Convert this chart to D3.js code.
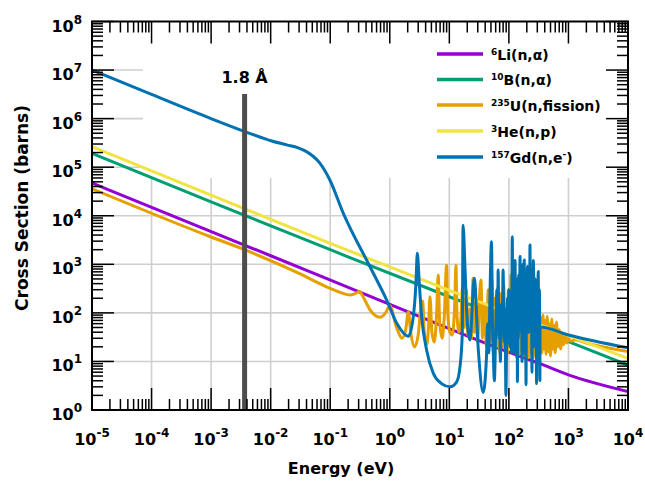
<!DOCTYPE html>
<html>
<head>
<meta charset="utf-8">
<script src="https://cdn.jsdelivr.net/npm/d3@7"></script>
<style>
  body { margin: 0; background: #fff; }
  svg { display: block; }
  text { font-family: "DejaVu Sans", Verdana, sans-serif; font-weight: bold; fill: #000; }
</style>
</head>
<body>
<svg id="chart" width="645" height="489"></svg>
<script>
// Axis decades (powers of ten)
const xDecades = [-5, -4, -3, -2, -1, 0, 1, 2, 3, 4];
const yDecades = [0, 1, 2, 3, 4, 5, 6, 7, 8];

// Cross sections: [energy (eV), cross section (barns)]
const li6 = [
  [1e-5, 47300], [1e-2, 1500], [1e0, 150], [1e2, 15.5], [330, 9], [1e3, 5.3], [1e4, 2.4]
];
const b10 = [
  [1e-5, 193000], [1e-3, 19300], [1e-1, 2000], [1e1, 215], [1e3, 25.5], [1e4, 8.4]
];
const he3 = [
  [1e-5, 265000], [1e-3, 26500], [1e-1, 2700], [1e1, 290], [1e3, 34], [1e4, 11.5]
];
const u235 = [
  [1e-5, 36000], [1e-3, 3650], [0.0033, 2100], [0.03, 650], [0.099, 321], [0.15, 262],
  [0.215, 233], [0.26, 250], [0.31, 274], [0.36, 210], [0.466, 115], [0.686, 81],
  [0.85, 100], [1.0, 140], [1.3, 50], [1.6, 30], [1.85, 45], [2.05, 105], [2.25, 40],
  [2.6, 20], [3.0, 35], [3.3, 120], [3.56, 175], [3.8, 40], [4.2, 22], [4.5, 60],
  [4.73, 215], [5.1, 40], [5.6, 25], [6.1, 90], [6.5, 600], [6.9, 60], [7.6, 30],
  [8.2, 80], [9.0, 960], [9.4, 100], [10.2, 40], [11.2, 35], [12.4, 200], [12.9, 960],
  [13.4, 100], [14.5, 40], [15.5, 60], [16.7, 350], [18, 50], [19.3, 300], [20.5, 35],
  [22, 120], [23.5, 30], [25, 515], [26.5, 40], [28, 100], [30, 25], [32, 200],
  [34, 475], [36, 30], [39, 150], [42, 20], [45, 300], [48, 25], [52, 500], [55, 15],
  [58, 200], [62, 20], [66, 350], [70, 15], [74, 250], [78, 20], [82, 400], [86, 18],
  [90, 150], [94, 14], [98, 300], [103, 20], [108, 600], [113, 18], [118, 200], [124, 15],
  [130, 450], [136, 20], [142, 250], [149, 14], [156, 350], [163, 18], [170, 200],
  [178, 13], [186, 300], [195, 16], [204, 150], [213, 12], [223, 250], [233, 15],
  [244, 120], [255, 12], [267, 200], [279, 14], [292, 100], [305, 12], [318, 150],
  [330, 20], [345, 80], [360, 15], [375, 90], [390, 18], [405, 70], [420, 14], [440, 85],
  [460, 16], [480, 60], [500, 13], [525, 75], [550, 18], [575, 55], [600, 15], [630, 65],
  [660, 20], [700, 45], [740, 18], [780, 40], [830, 22], [880, 35], [940, 24], [1000, 30],
  [1100, 26], [1300, 28], [2000, 24], [1e4, 16]
];
const gd157 = [
  [1e-5, 1.0e7], [1e-4, 3.15e6], [1e-3, 1.0e6], [0.0037, 5.4e5], [0.0104, 3.46e5],
  [0.0186, 2.88e5], [0.029, 2.5e5], [0.040, 2.09e5], [0.067, 1.21e5], [0.0986, 5.45e4],
  [0.166, 1.12e4], [0.466, 890], [0.887, 184], [1.31, 61], [2.05, 33], [2.48, 83],
  [2.75, 405], [2.9, 1690], [3.13, 405], [3.43, 83], [4.16, 17], [5.37, 5.7], [7.4, 3.5],
  [10.3, 3.0], [13.3, 3.8], [15.1, 7.8], [16.5, 38], [17, 6400], [18.3, 890], [19.5, 114],
  [22.2, 27.5], [26.2, 515], [30.7, 17], [37, 2.3], [42, 12], [44, 60], [46, 15],
  [48, 200], [51, 2900], [53, 60], [55, 12], [57, 4], [60, 40], [63, 300], [65, 60],
  [66, 760], [68, 30], [70, 80], [72, 10], [75, 150], [77, 40], [80, 760], [82, 60],
  [84, 25], [86, 120], [88, 8], [89, 2], [92, 40], [95, 200], [97, 25], [100, 300],
  [102, 60], [104, 20], [106, 250], [108, 60], [111, 15], [114, 3700], [116, 150],
  [118, 400], [120, 40], [122, 15], [124, 300], [127, 1200], [129, 60], [132, 500],
  [134, 40], [136, 12], [138, 150], [139, 3.8], [142, 200], [144, 30], [146, 600],
  [149, 50], [152, 300], [154, 1440], [157, 100], [160, 40], [163, 700], [166, 10],
  [169, 150], [172, 1000], [175, 60], [178, 15], [181, 1230], [184, 80], [187, 30],
  [190, 400], [194, 3.3], [197, 200], [201, 60], [205, 900], [209, 500], [212, 40],
  [216, 40], [220, 600], [223, 80], [226, 2500], [230, 100], [234, 50], [238, 800],
  [244, 6], [248, 400], [252, 100], [257, 1200], [263, 300], [267, 60], [272, 20],
  [277, 500], [282, 150], [287, 40], [292, 3.5], [296, 400], [300, 60], [305, 200],
  [311, 710], [316, 80], [320, 30], [326, 300], [332, 4], [333, 51], [1000, 35], [1e4, 19]
];

// Legend labels: isotope mass number, reaction, optional superscript inside the reaction
const isotopes = ["6", "10", "235", "3", "157"];
const reactions = ["Li(n,α)", "B(n,α)", "U(n,fission)", "He(n,p)", "Gd(n,e"];
const reactionSup = ["", "", "", "", "-"];
const reactionEnd = ["", "", "", "", ")"];
const seriesData = [li6, b10, u235, he3, gd157];
const seriesColors = ["#9400D3", "#009E73", "#E69F00", "#F0E442", "#0072B2"];

// Thermal-neutron wavelength marker
const markerLabel = "1.8 Å";
const markerEnergy = 0.00365;
const markerTop = 3.2e6;

const svg = d3.select("#chart");
const plotLeft = 92, plotRight = 628, plotTop = 21.5, plotBottom = 410;

const x = d3.scaleLog().domain([1e-5, 1e4]).range([plotLeft, plotRight]);
const y = d3.scaleLog().domain([1, 1e8]).range([plotBottom, plotTop]);

// Grid lines at each decade
const grid = svg.append("g").attr("stroke", "#cfcfcf").attr("stroke-width", 1.6);
xDecades.slice(1, -1).forEach(d => {
  grid.append("line").attr("x1", x(10 ** d)).attr("x2", x(10 ** d))
    .attr("y1", plotTop).attr("y2", plotBottom);
});
yDecades.slice(1, -1).forEach(d => {
  grid.append("line").attr("x1", plotLeft).attr("x2", plotRight)
    .attr("y1", y(10 ** d)).attr("y2", y(10 ** d));
});

// Legend background
svg.append("rect").attr("x", 143).attr("y", plotTop + 1).attr("width", plotRight - 144)
  .attr("height", 178 - plotTop - 1).attr("fill", "#fff");

// Curves
const line = d3.line()
  .x(d => x(d[0])).y(d => y(d[1]))
  .curve(d3.curveMonotoneX);

svg.append("clipPath").attr("id", "plotclip")
  .append("rect").attr("x", plotLeft).attr("y", plotTop)
  .attr("width", plotRight - plotLeft).attr("height", plotBottom - plotTop);

const curves = svg.append("g").attr("clip-path", "url(#plotclip)");
seriesData.forEach((data, i) => {
  curves.append("path").datum(data)
    .attr("d", line)
    .attr("fill", "none")
    .attr("stroke", seriesColors[i])
    .attr("stroke-width", 3)
    .attr("stroke-linejoin", "round");
});

// Wavelength marker bar
svg.append("line")
  .attr("x1", x(markerEnergy)).attr("x2", x(markerEnergy))
  .attr("y1", y(markerTop)).attr("y2", plotBottom)
  .attr("stroke", "#4d4d4d").attr("stroke-width", 5);
svg.append("text").attr("x", x(markerEnergy)).attr("y", 83)
  .attr("text-anchor", "middle").attr("font-size", 16).text(markerLabel);

// Ticks (inside, all four sides)
const ticks = svg.append("g").attr("stroke", "#000").attr("stroke-width", 1.5);
const major = 22, minor = 11;
xDecades.forEach((d, i) => {
  const v = 10 ** d;
  ticks.append("line").attr("x1", x(v)).attr("x2", x(v)).attr("y1", plotBottom).attr("y2", plotBottom - major);
  ticks.append("line").attr("x1", x(v)).attr("x2", x(v)).attr("y1", plotTop).attr("y2", plotTop + major);
  if (i < xDecades.length - 1) {
    for (let k = 2; k <= 9; k++) {
      const m = k * v;
      ticks.append("line").attr("x1", x(m)).attr("x2", x(m)).attr("y1", plotBottom).attr("y2", plotBottom - minor);
      ticks.append("line").attr("x1", x(m)).attr("x2", x(m)).attr("y1", plotTop).attr("y2", plotTop + minor);
    }
  }
});
yDecades.forEach((d, i) => {
  const v = 10 ** d;
  ticks.append("line").attr("y1", y(v)).attr("y2", y(v)).attr("x1", plotLeft).attr("x2", plotLeft + major);
  ticks.append("line").attr("y1", y(v)).attr("y2", y(v)).attr("x1", plotRight).attr("x2", plotRight - major);
  if (i < yDecades.length - 1) {
    for (let k = 2; k <= 9; k++) {
      const m = k * v;
      ticks.append("line").attr("y1", y(m)).attr("y2", y(m)).attr("x1", plotLeft).attr("x2", plotLeft + minor);
      ticks.append("line").attr("y1", y(m)).attr("y2", y(m)).attr("x1", plotRight).attr("x2", plotRight - minor);
    }
  }
});

// Plot frame
svg.append("rect").attr("x", plotLeft).attr("y", plotTop)
  .attr("width", plotRight - plotLeft).attr("height", plotBottom - plotTop)
  .attr("fill", "none").attr("stroke", "#000").attr("stroke-width", 2);

// Tick labels as powers of ten
function powerLabel(sel, exp) {
  sel.append("tspan").text("10");
  sel.append("tspan").attr("font-size", 12).attr("dy", -8).text(exp < 0 ? "-" + (-exp) : String(exp));
}
xDecades.forEach(d => {
  const t = svg.append("text").attr("x", x(10 ** d)).attr("y", 445)
    .attr("text-anchor", "middle").attr("font-size", 16);
  powerLabel(t, d);
});
yDecades.forEach(d => {
  const t = svg.append("text").attr("x", 82).attr("y", y(10 ** d) + 10)
    .attr("text-anchor", "end").attr("font-size", 16);
  powerLabel(t, d);
});

// Axis titles
svg.append("text").attr("x", 341).attr("y", 474).attr("text-anchor", "middle")
  .attr("font-size", 16).text("Energy (eV)");
svg.append("text").attr("transform", "translate(28,208) rotate(-90)")
  .attr("text-anchor", "middle").attr("font-size", 17).text("Cross Section (barns)");

// Legend
const legendY = [54, 79.5, 105, 131, 157];
reactions.forEach((r, i) => {
  svg.append("line").attr("x1", 437).attr("x2", 483).attr("y1", legendY[i]).attr("y2", legendY[i])
    .attr("stroke", seriesColors[i]).attr("stroke-width", 3.5);
  const t = svg.append("text").attr("x", 491).attr("y", legendY[i] + 5.5).attr("font-size", 14);
  t.append("tspan").attr("font-size", 9).attr("dy", -5).text(isotopes[i]);
  t.append("tspan").attr("dy", 5).text(r);
  if (reactionSup[i]) {
    t.append("tspan").attr("font-size", 9).attr("dy", -6).text(reactionSup[i]);
    t.append("tspan").attr("dy", 6).text(reactionEnd[i]);
  }
});
</script>
</body>
</html>
